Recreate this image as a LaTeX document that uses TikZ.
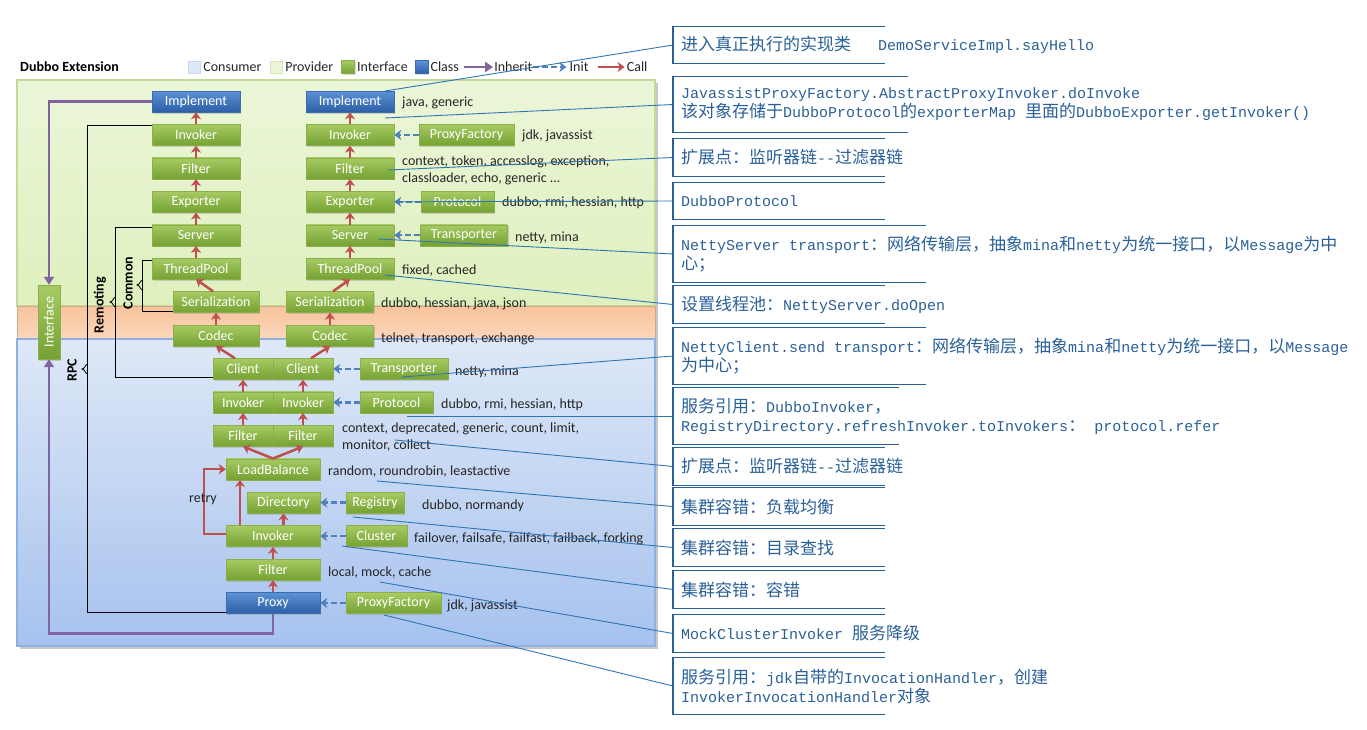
\documentclass[tikz,border=0pt]{standalone}
\usepackage{fontspec}
\usepackage{graphicx}
\setmainfont{Carlito}
\newfontfamily\monofont{Liberation Mono}
\newfontfamily\cjkfont{Noto Sans CJK SC}
\usetikzlibrary{arrows.meta,positioning,shadows}

\definecolor{gtop}{HTML}{A6CB63}
\definecolor{gbot}{HTML}{75A132}
\definecolor{gedge}{HTML}{8BAF4B}
\definecolor{btop}{HTML}{5C91D4}
\definecolor{bbot}{HTML}{2C5FA6}
\definecolor{bedge}{HTML}{3B6CB2}
\definecolor{callred}{HTML}{C0504D}
\definecolor{initblue}{HTML}{4F81BD}
\definecolor{inhpurple}{HTML}{8064A2}
\definecolor{provtop}{HTML}{EBF6D8}
\definecolor{provbg}{HTML}{DFF0BE}
\definecolor{provedge}{HTML}{C3D99B}
\definecolor{codectop}{HTML}{F8C39C}
\definecolor{codecbot}{HTML}{FBD6BB}
\definecolor{constop}{HTML}{DEE8F7}
\definecolor{consbot}{HTML}{A6C2EE}
\definecolor{consedge}{HTML}{8DB1E1}
\definecolor{leadblue}{HTML}{2E75B6}
\definecolor{noteblue}{HTML}{2A6098}
\definecolor{hintgray}{HTML}{262626}

\newcommand\dfont{\fontsize{14}{17}\selectfont}
\newcommand\notefont{\monofont\fontsize{15}{19}\selectfont}
\newcommand\zh[1]{{\cjkfont\fontsize{17}{19}\selectfont #1}}

\begin{document}
\begin{tikzpicture}[x=1pt,y=-1pt]
		\tikzset{box/.style={draw=gedge,line width=0.4pt,top color=gtop,bottom color=gbot,
				text=white,font=\dfont,inner sep=0pt,minimum height=21pt,
				drop shadow={opacity=0.3,shadow xshift=1pt,shadow yshift=-1.5pt}}}
		\tikzset{cls/.style={box,draw=bedge,top color=btop,bottom color=bbot}}
		\tikzset{hint/.style={anchor=west,inner sep=0pt,text=hintgray,font=\dfont,align=left}}
		\tikzset{call/.style={draw=callred,line width=2.5pt,-{Stealth[length=7pt,width=10pt,inset=2pt]}}}
		\tikzset{init/.style={draw=initblue,line width=2.5pt,dash pattern=on 6pt off 3pt,-{Stealth[length=7pt,width=10pt,inset=2pt]}}}
		\tikzset{inherit/.style={draw=inhpurple,line width=2.5pt,-{Stealth[length=8pt,width=10pt,inset=0pt]}}}
		\tikzset{bline/.style={draw=black,line width=1pt}}
		\tikzset{vlabel/.style={rotate=90,inner sep=0pt,font=\dfont\bfseries}}
		\tikzset{note/.style={anchor=west,inner xsep=8pt,inner ysep=0pt,minimum height=37pt,align=left,text=noteblue,font=\notefont}}
		\tikzset{noteframe/.style={draw=noteblue,line width=1.2pt}}
		\tikzset{leader/.style={draw=leadblue,line width=0.9pt}}
		\useasboundingbox (0,0) rectangle (1367,729);
		% background areas
		\fill[black!22] (20,83) rectangle (658,649);
		\draw[draw=provedge,line width=1.2pt,top color=provtop,bottom color=provbg] (17,80) rectangle (655,306);
		\draw[draw=codectop!85!black,top color=codectop,bottom color=codecbot] (17,306) rectangle (655,339);
		\draw[draw=consedge,line width=1.2pt,top color=constop,bottom color=consbot] (17,339) rectangle (655,646);
		% legend
		\node[anchor=west,inner sep=0pt,font=\dfont\bfseries] (title) at (20,67) {Dubbo Extension};
		\node[draw=consedge!50,fill=constop,minimum size=12pt,inner sep=0pt] (swCons) at (194,67) {};
		\node[hint,right=3pt of swCons] (tCons) {Consumer};
		\node[draw=provedge!70,fill=provtop,minimum size=12pt,inner sep=0pt,right=8pt of tCons] (swProv) {};
		\node[hint,right=3pt of swProv] (tProv) {Provider};
		\node[box,minimum size=13pt,right=8pt of tProv] (swIface) {};
		\node[hint,right=2pt of swIface] (tIface) {Interface};
		\node[cls,minimum size=13pt,right=7pt of tIface] (swCls) {};
		\node[hint,right=2pt of swCls] (tCls) {Class};
		\coordinate[right=5pt of tCls] (inhA);
		\coordinate[right=29pt of inhA] (inhB);
		\draw[inherit] (inhA) -- (inhB);
		\node[hint,right=1pt of inhB] (tInh) {Inherit};
		\coordinate[right=1pt of tInh] (iniA);
		\coordinate[right=33pt of iniA] (iniB);
		\draw[init] (iniA) -- (iniB);
		\node[hint,right=3pt of iniB] (tIni) {Init};
		\coordinate[right=9pt of tIni] (calA);
		\coordinate[right=27pt of calA] (calB);
		\draw[call] (calA) -- (calB);
		\node[hint,right=2pt of calB] (tCal) {Call};
		% provider side
		\node[cls,minimum width=88pt] (implL) at (196,101.5) {Implement};
		\node[cls,minimum width=88pt] (implR) at (350,101.5) {Implement};
		\foreach \n/\t/\y in {inv/Invoker/134.9,fil/Filter/168.3,exp/Exporter/201.8,srv/Server/235.2,pool/ThreadPool/268.6}{
			\node[box,minimum width=88pt] (\n L) at (196,\y) {\t};
			\node[box,minimum width=88pt] (\n R) at (350,\y) {\t};
		}
		\node[box,minimum width=86pt] (serL) at (216,302) {Serialization};
		\node[box,minimum width=86pt] (codL) at (216,335.5) {Codec};
		\node[box,minimum width=87pt] (serR) at (330,302) {Serialization};
		\node[box,minimum width=87pt] (codR) at (330,335.5) {Codec};
		\node[box,minimum width=95pt] (pfP) at (466.5,134.9) {ProxyFactory};
		\node[box,minimum width=73pt] (protoP) at (457.5,201.8) {Protocol};
		\node[box,minimum width=87pt] (transP) at (464,235.2) {Transporter};
		% consumer side
		\foreach \s/\x in {L/243,R/303}{
			\node[box,minimum width=60pt] (cli\s) at (\x,368.9) {Client};
			\node[box,minimum width=60pt] (cinv\s) at (\x,402.3) {Invoker};
			\node[box,minimum width=60pt] (cfil\s) at (\x,435.8) {Filter};
		}
		\node[box,minimum width=94pt] (lb) at (273,469.2) {LoadBalance};
		\node[box,minimum width=73pt] (dir) at (283.5,502.6) {Directory};
		\node[box,minimum width=94pt] (cinv) at (273,536.1) {Invoker};
		\node[box,minimum width=94pt] (cfil) at (273,569.5) {Filter};
		\node[cls,minimum width=94pt] (proxy) at (273,603) {Proxy};
		\node[box,minimum width=88pt] (transC) at (404,368.9) {Transporter};
		\node[box,minimum width=73pt] (protoC) at (396.5,402.3) {Protocol};
		\node[box,minimum width=58pt] (reg) at (375,502.6) {Registry};
		\node[box,minimum width=61pt] (clu) at (376.5,536.1) {Cluster};
		\node[box,minimum width=95pt] (pfC) at (393.5,603) {ProxyFactory};
		\node[box,minimum width=22pt,minimum height=74pt] (iface) at (49,322) {\rotatebox{90}{Interface}};
		% extension values
		\node[hint] (hImpl) at (402,103) {java, generic};
		\node[hint] (hPfP) at (522,136) {jdk, javassist};
		\node[hint] (hFilP) at (402,170.5) {context, token, accesslog, exception,\\classloader, echo, generic ...};
		\node[hint] (hProtoP) at (502,203) {dubbo, rmi, hessian, http};
		\node[hint] (hTransP) at (515,238) {netty, mina};
		\node[hint] (hPool) at (402,271) {fixed, cached};
		\node[hint] (hSer) at (381,304) {dubbo, hessian, java, json};
		\node[hint] (hCod) at (381,339) {telnet, transport, exchange};
		\node[hint] (hTransC) at (455,372) {netty, mina};
		\node[hint] (hProtoC) at (441,405) {dubbo, rmi, hessian, http};
		\node[hint] (hFilC) at (342,437.5) {context, deprecated, generic, count, limit,\\monitor, collect};
		\node[hint] (hLb) at (328,472) {random, roundrobin, leastactive};
		\node[hint] (hReg) at (422,506) {dubbo, normandy};
		\node[hint] (hClu) at (414,539) {failover, failsafe, failfast, failback, forking};
		\node[hint] (hCfil) at (328,573) {local, mock, cache};
		\node[hint] (hPfC) at (447,606) {jdk, javassist};
		% calls
		\foreach \a/\b in {invL/implL,filL/invL,expL/filL,srvL/expL,poolL/srvL,codL/serL,
			invR/implR,filR/invR,expR/filR,srvR/expR,poolR/srvR,codR/serR,
			cinvL/cliL,cfilL/cinvL,cinvR/cliR,cfilR/cinvR,cfil/cinv,proxy/cfil}
			\draw[call] (\a) -- (\b);
		\draw[call] ([xshift=-3pt]serL.north) -- (poolL.south);
		\draw[call] ([xshift=3pt]serR.north) -- (poolR.south);
		\draw[call] ([xshift=-8pt]cliL.north) -- (codL.south);
		\draw[call] ([xshift=8pt]cliR.north) -- (codR.south);
		\draw[call] (lb.north) -- (cfilL.south);
		\draw[call] (lb.north) -- (cfilR.south);
		\draw[call] (cinv.north -| dir.south) -- (dir.south);
		\draw[call] ([xshift=-33pt]cinv.north) -- ([xshift=-33pt]lb.south);
		\draw[call] ([yshift=2pt]cinv.west) -- ++(-22,0) |- (lb.west);
		\node[hint,anchor=center] (retry) at (203,499) {retry};
		% inits
		\foreach \a/\b in {pfP/invR,protoP/expR,transP/srvR,transC/cliR,protoC/cinvR,reg/dir,clu/cinv,pfC/proxy}
			\draw[init] (\a) -- (\b);
		% inherit
		\draw[inherit] (implL.west) -| (iface.north);
		\draw[inherit] (proxy.south) -- ++(0,20) -| (iface.south);
		% RPC, Remoting, Common
		\draw[bline] ([yshift=-1.5pt]invL.north west) -- ++(-64,0) |- ([yshift=1pt]proxy.south west);
		\draw[bline] ([yshift=-3pt]srvL.north west) -- ++(-36,0) |- ([yshift=2pt]cliL.south west);
		\draw[bline] ([yshift=-3pt]poolL.north west) -- ++(-9,0) |- ([yshift=1pt]serL.south west);
		\foreach \bx/\by in {88/369,116/302,143/285}
			\draw[bline,line width=0.8pt] (\bx,\by-5) .. controls (\bx-3,\by-5) and (\bx-3,\by) .. (\bx-6,\by) .. controls (\bx-3,\by) and (\bx-3,\by+5) .. (\bx,\by+5);
		\node[vlabel] (rpc) at (72,370) {RPC};
		\node[vlabel] (remoting) at (100,305) {Remoting};
		\node[vlabel] (common) at (128,283) {Common};
		% notes
		\node[note] (c1) at (673,45) {\zh{进入真正执行的实现类}\ \ \ DemoServiceImpl.sayHello};
		\node[note,minimum height=55pt] (c2) at (673,104.5) {JavassistProxyFactory.AbstractProxyInvoker.doInvoke\\\zh{该对象存储于}DubboProtocol\zh{的}exporterMap \zh{里面的}DubboExporter.getInvoker()};
		\node[note] (c3) at (673,157.5) {\zh{扩展点：监听器链}-{}-\zh{过滤器链}};
		\node[note] (c4) at (673,201) {DubboProtocol};
		\node[note,minimum height=56pt] (c5) at (673,254) {NettyServer transport\zh{：网络传输层，抽象}mina\zh{和}netty\zh{为统一接口，以}Message\zh{为中}\\\zh{心；}};
		\node[note] (c6) at (673,304.5) {\zh{设置线程池：}NettyServer.doOpen};
		\node[note,minimum height=56pt] (c7) at (673,356) {NettyClient.send transport\zh{：网络传输层，抽象}mina\zh{和}netty\zh{为统一接口，以}Message\\\zh{为中心；}};
		\node[note,minimum height=56pt] (c8) at (673,416) {\zh{服务引用：}DubboInvoker\zh{，}\\RegistryDirectory.refreshInvoker.toInvokers\zh{：}\ protocol.refer};
		\node[note] (c9) at (673,466.5) {\zh{扩展点：监听器链}-{}-\zh{过滤器链}};
		\node[note] (c10) at (673,506.5) {\zh{集群容错：负载均衡}};
		\node[note] (c11) at (673,547.5) {\zh{集群容错：目录查找}};
		\node[note] (c12) at (673,589.5) {\zh{集群容错：容错}};
		\node[note] (c13) at (673,633.5) {MockClusterInvoker \zh{服务降级}};
		\node[note,minimum height=56pt] (c14) at (673,686) {\zh{服务引用：}jdk\zh{自带的}InvocationHandler\zh{，创建}\\InvokerInvocationHandler\zh{对象}};
		\foreach \n/\w in {c1/212,c2/235,c3/212,c4/212,c5/253,c6/212,c7/253,c8/226,c9/212,c10/212,c11/212,c12/212,c13/212,c14/212}
			\draw[noteframe] ([xshift=\w pt]\n.north west) -- (\n.north west) -- (\n.south west) -- ([xshift=\w pt]\n.south west);
		% leaders
		\foreach \i/\px/\py in {1/385/91,2/385/118,3/388/170,4/396/201.8,5/378/239,6/385/275,7/402/377,
			8/407/416,9/395/440,10/377/481,11/353/517,12/342/546,13/380/582,14/384/615}
			\coordinate (lead\i) at (\px,\py);
		\foreach \i in {1,...,14}
			\draw[leader] (lead\i) -- (c\i.west);
	\end{tikzpicture}
\end{document}
